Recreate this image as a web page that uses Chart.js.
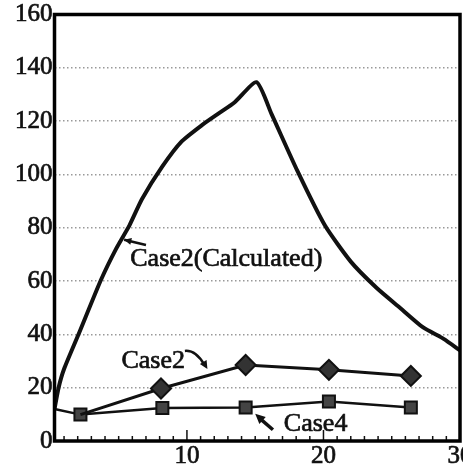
<!DOCTYPE html>
<html>
<head>
<meta charset="utf-8">
<script src="https://cdn.jsdelivr.net/npm/chart.js@4.4.1/dist/chart.umd.min.js"></script>
<style>
  html, body { margin: 0; padding: 0; background: #fff; overflow: hidden; }
  #wrap { width: 463px; height: 472px; overflow: hidden; }
</style>
</head>
<body>
<div id="wrap"><canvas id="chart" width="480" height="472"></canvas></div>
<script>
// Case2 (Calculated) curve
const calcX = [0.3, 0.6, 1.0, 2.1, 3.7, 4.8, 5.8, 6.7, 8.2, 9.6, 11.1, 12.3, 13.5, 15.1, 16.2, 18.1, 20.1, 22.0, 23.9, 25.6, 27.3, 28.8, 30.0];
const calcY = [12, 20, 27, 40.5, 60.4, 72, 81, 90.7, 103, 112.3, 118.5, 122.8, 127.1, 134.6, 122.6, 101.2, 80.9, 67.3, 57.4, 50, 42.6, 38.3, 34];

// Case2 (diamonds) - first point is the shared start
const case2X = [2.2, 8.1, 14.3, 20.4, 26.4];
const case2Y = [9.9, 19.7, 28.5, 26.7, 24.4];

// Case4 (squares)
const case4X = [0.3, 2.2, 8.2, 14.3, 20.4, 26.4];
const case4Y = [12, 9.9, 12.4, 12.6, 14.8, 12.6];

const xTickLabels = [10, 20, 30];
const yTickLabels = [0, 20, 40, 60, 80, 100, 120, 140, 160];

const serif = "'Liberation Serif', 'Times New Roman', serif";

function pts(xs, ys) {
    return xs.map((x, i) => ({ x: x, y: ys[i] }));
}

// annotation anchors (data units)
const notes = [
    { text: 'Case2(Calculated)', x: 5.85, y: 65.6 },
    { text: 'Case2', x: 5.2, y: 27.2 },
    { text: 'Case4', x: 17.1, y: 3.6 }
];

function arrowHead(ctx, x1, y1, x2, y2, size) {
    const a = Math.atan2(y2 - y1, x2 - x1);
    ctx.beginPath();
    ctx.moveTo(x2, y2);
    ctx.lineTo(x2 - size * Math.cos(a - 0.45), y2 - size * Math.sin(a - 0.45));
    ctx.lineTo(x2 - size * Math.cos(a + 0.45), y2 - size * Math.sin(a + 0.45));
    ctx.closePath();
    ctx.fill();
}

const decor = {
    id: 'decor',
    afterDatasetsDraw(chart) {
        const ctx = chart.ctx;
        const xs = chart.scales.x, ys = chart.scales.y;
        const a = chart.chartArea;
        ctx.save();
        // inner ticks on the x axis
        ctx.strokeStyle = '#111';
        ctx.lineWidth = 1.5;
        for (let v = 1; v < 30; v++) {
            const px = xs.getPixelForValue(v);
            const len = (v % 10 === 0) ? 11 : 5;
            ctx.beginPath();
            ctx.moveTo(px, a.bottom);
            ctx.lineTo(px, a.bottom - len);
            ctx.stroke();
        }
        // frame
        ctx.lineWidth = 3.5;
        ctx.strokeStyle = '#000';
        ctx.strokeRect(a.left, a.top, a.right - a.left, a.bottom - a.top);

        // labels
        ctx.fillStyle = '#111';
        ctx.strokeStyle = '#111';
        ctx.lineWidth = 0.7;
        ctx.font = '26px ' + serif;
        ctx.textBaseline = 'alphabetic';
        notes.forEach(n => {
            const px = xs.getPixelForValue(n.x), py = ys.getPixelForValue(n.y);
            ctx.fillText(n.text, px, py);
            ctx.strokeText(n.text, px, py);
        });

        // arrows
        // Case2(Calculated)
        let x1 = xs.getPixelForValue(7.0), y1 = ys.getPixelForValue(73.5);
        let x2 = xs.getPixelForValue(5.4), y2 = ys.getPixelForValue(75.5);
        ctx.lineWidth = 2.5;
        ctx.beginPath(); ctx.moveTo(x1, y1); ctx.lineTo(x2, y2); ctx.stroke();
        arrowHead(ctx, x1, y1, x2, y2, 8);
        // Case2
        x1 = xs.getPixelForValue(9.85); y1 = ys.getPixelForValue(33.8);
        x2 = xs.getPixelForValue(11.5); y2 = ys.getPixelForValue(27.0);
        const cx = x1 + 11, cy = y1 - 1;
        ctx.lineWidth = 2.5;
        ctx.beginPath();
        ctx.moveTo(x1, y1);
        ctx.quadraticCurveTo(cx, cy, x2 - 3, y2 - 4);
        ctx.stroke();
        arrowHead(ctx, cx, cy, x2, y2, 9);
        // Case4
        x1 = xs.getPixelForValue(16.3); y1 = ys.getPixelForValue(4.2);
        x2 = xs.getPixelForValue(15.0); y2 = ys.getPixelForValue(10.2);
        ctx.lineWidth = 3.5;
        ctx.beginPath(); ctx.moveTo(x1, y1); ctx.lineTo(x2 + 4, y2 + 4); ctx.stroke();
        arrowHead(ctx, x1, y1, x2, y2, 11);
        ctx.restore();
    }
};

new Chart(document.getElementById('chart'), {
    type: 'line',
    data: {
        datasets: [
            {
                label: 'Case2(Calculated)',
                data: pts(calcX, calcY),
                borderColor: '#111',
                borderWidth: 4,
                pointRadius: 0,
                tension: 0.2,
                fill: false
            },
            {
                label: 'Case2',
                data: pts(case2X, case2Y),
                borderColor: '#111',
                backgroundColor: '#333',
                borderWidth: 3,
                pointStyle: 'rectRot',
                pointRadius: [0, 10, 10, 10, 10],
                pointBorderWidth: 2,
                tension: 0
            },
            {
                label: 'Case4',
                data: pts(case4X, case4Y),
                borderColor: '#111',
                backgroundColor: '#444',
                borderWidth: 2.5,
                pointStyle: 'rect',
                pointRadius: [0, 8.5, 8.5, 8.5, 8.5, 8.5],
                pointBorderWidth: 2,
                tension: 0
            }
        ]
    },
    options: {
        responsive: false,
        animation: false,
        layout: { padding: { left: 13, top: 13, right: 20, bottom: 0 } },
        plugins: {
            legend: { display: false },
            tooltip: { enabled: false }
        },
        scales: {
            x: {
                type: 'linear',
                min: 0.3,
                max: 30,
                afterBuildTicks: s => { s.ticks = xTickLabels.map(v => ({ value: v })); },
                grid: { display: false, drawTicks: false },
                border: { display: false },
                ticks: {
                    color: '#111',
                    padding: 3,
                    maxRotation: 0,
                    autoSkip: false,
                    textStrokeColor: '#111',
                    textStrokeWidth: 0.7,
                    font: { family: serif, size: 25, lineHeight: 1 }
                }
            },
            y: {
                min: 0,
                max: 160,
                afterBuildTicks: s => { s.ticks = yTickLabels.map(v => ({ value: v })); },
                grid: {
                    drawTicks: false,
                    lineWidth: 1.5,
                    color: c => (c.tick && (c.tick.value === 0 || c.tick.value === 160)) ? 'rgba(0,0,0,0)' : '#999'
                },
                border: { display: false, dash: [1.5, 2.5] },
                ticks: {
                    color: '#111',
                    padding: 2,
                    textStrokeColor: '#111',
                    textStrokeWidth: 0.7,
                    font: { family: serif, size: 25, lineHeight: 1 }
                }
            }
        }
    },
    plugins: [decor]
});
</script>
</body>
</html>
